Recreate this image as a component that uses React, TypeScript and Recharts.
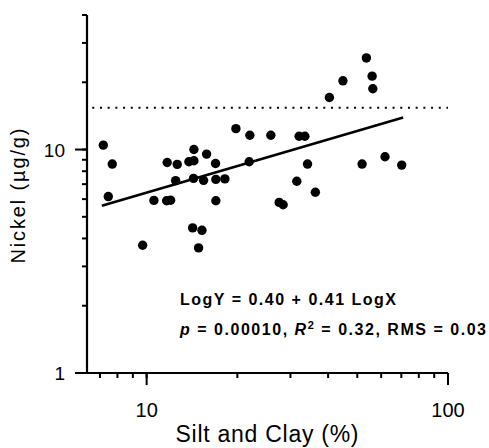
import React from "react";
import { ScatterChart, Scatter, XAxis, YAxis, ReferenceLine, Customized } from "recharts";

// silt + clay content (%) and nickel (ug/g) for each sample
const siltClay = [
  7.18, 7.69, 7.46, 11.7, 12.63, 13.81, 14.35, 14.35, 15.81, 16.93, 19.78, 22.0, 25.83, 21.89,
  12.48, 14.31, 15.45, 16.97, 18.18, 10.57, 11.65, 12.01, 16.97, 27.53, 28.38, 14.21, 15.26,
  9.7, 14.87, 53.6, 56.0, 56.3, 44.8, 40.4, 32.06, 33.5, 34.19, 51.87, 61.8, 70.2, 31.5, 36.3,
];
const nickel = [
  10.46, 8.61, 6.16, 8.75, 8.58, 8.82, 8.91, 10.0, 9.54, 8.66, 12.4, 11.59, 11.59, 8.82,
  7.26, 7.43, 7.28, 7.35, 7.39, 5.92, 5.9, 5.93, 5.9, 5.8, 5.66, 4.46, 4.35,
  3.73, 3.63, 25.7, 21.3, 18.7, 20.3, 17.1, 11.47, 11.47, 8.61, 8.61, 9.28, 8.52, 7.21, 6.44,
];

// regression line ends and the dotted guideline level
const fitLine = [
  { x: 7.1, y: 5.6 },
  { x: 71, y: 13.9 },
];
const guideline = 15.4;

const xTicks = [7, 8, 9, 10, 20, 30, 40, 50, 60, 70, 80, 90, 100];
const xLabels = [10, 100];
const yTicks = [1, 2, 3, 4, 5, 6, 7, 8, 9, 10, 20, 30, 40];
const yLabels = [1, 10];

const data = siltClay.map((x, i) => ({ x, y: nickel[i] }));

const FONT = "'Liberation Sans', Arial, Helvetica, sans-serif";
const MINOR = 5;

// tick lines are drawn by recharts (minor length); majors get an extra stub + label
function XTick({ x, y, payload }: any) {
  const major = xLabels.includes(payload.value);
  if (!major) return <g />;
  return (
    <g>
      <path d={`M${x},${y - MINOR}V${y + 7}`} stroke="#000" strokeWidth={2} fill="none" />
      <text x={x} y={y + 39} textAnchor="middle" fontSize={20} fontFamily={FONT} fill="#000">
        {payload.value}
      </text>
    </g>
  );
}

function YTick({ x, y, payload }: any) {
  const major = yLabels.includes(payload.value);
  if (!major) return <g />;
  return (
    <g>
      <path d={`M${x + MINOR},${y}H${x - 7}`} stroke="#000" strokeWidth={2} fill="none" />
      <text x={x - 17} y={y + 7} textAnchor="end" fontSize={19} fontFamily={FONT} fill="#000">
        {payload.value}
      </text>
    </g>
  );
}

function Annotations() {
  return (
    <g fontFamily={FONT} fill="#000">
      <text x={25} y={196} transform="rotate(-90 25 196)" textAnchor="middle" fontSize={20}
        textLength={135} lengthAdjust="spacing">
        Nickel (µg/g)
      </text>
      <text x={267} y={442} textAnchor="middle" fontSize={23} textLength={183} lengthAdjust="spacing">
        Silt and Clay (%)
      </text>
      <text x={180} y={305} fontSize={16} fontWeight="bold" textLength={216} lengthAdjust="spacing">
        LogY = 0.40 + 0.41 LogX
      </text>
      <text x={180} y={335} fontSize={16} fontWeight="bold" textLength={306} lengthAdjust="spacing">
        <tspan fontStyle="italic">p</tspan> = 0.00010, <tspan fontStyle="italic">R</tspan>
        <tspan dy={-6} fontSize={11}>2</tspan>
        <tspan dy={6}> = 0.32, RMS = 0.03</tspan>
      </text>
    </g>
  );
}

export default function App() {
  return (
    <div style={{ position: "absolute", left: 0, top: 0, width: 489, height: 448, background: "#fff" }}>
      <ScatterChart width={489} height={448} margin={{ top: 15, right: 41, left: 0, bottom: 0 }}>
        <XAxis
          type="number"
          dataKey="x"
          scale="log"
          domain={[6.34, 100]}
          allowDataOverflow
          ticks={xTicks}
          tick={(p: any) => <XTick {...p} />}
          tickLine={{ stroke: "#000", strokeWidth: 2 }}
          tickSize={MINOR}
          tickMargin={0}
          interval={0}
          height={75}
          axisLine={{ stroke: "#000", strokeWidth: 2.2 }}
        />
        <YAxis
          type="number"
          dataKey="y"
          scale="log"
          domain={[1, 40]}
          allowDataOverflow
          ticks={yTicks}
          tick={(p: any) => <YTick {...p} />}
          tickLine={{ stroke: "#000", strokeWidth: 2 }}
          tickSize={MINOR}
          tickMargin={0}
          interval={0}
          width={87}
          axisLine={{ stroke: "#000", strokeWidth: 2.2 }}
        />
        <ReferenceLine
          segment={[
            { x: 6.6, y: guideline },
            { x: 100, y: guideline },
          ]}
          stroke="#000"
          strokeWidth={2}
          strokeDasharray="2 5.7"
        />
        <ReferenceLine segment={fitLine} stroke="#000" strokeWidth={2.6} />
        <Scatter
          data={data}
          isAnimationActive={false}
          shape={(p: any) => <circle cx={p.cx} cy={p.cy} r={4.7} fill="#000" />}
        />
        <Customized component={Annotations} />
      </ScatterChart>
    </div>
  );
}
